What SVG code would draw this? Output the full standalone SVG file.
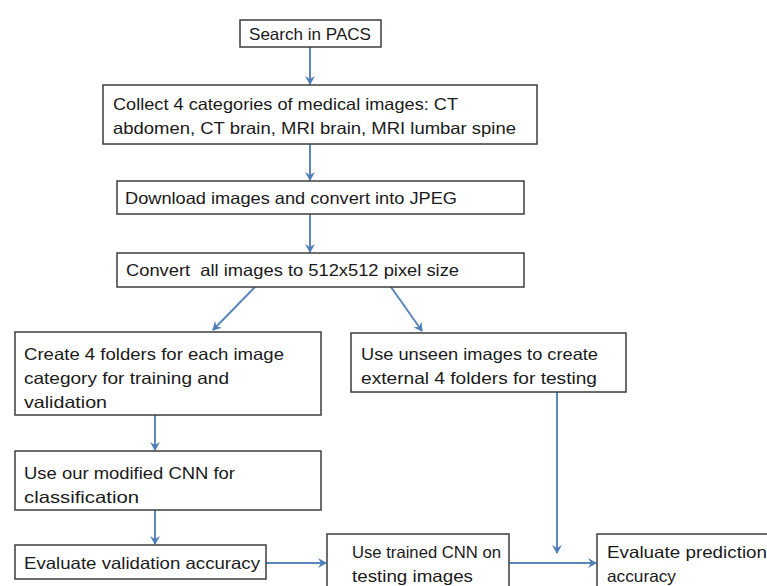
<svg xmlns="http://www.w3.org/2000/svg" width="767" height="586" viewBox="0 0 767 586">
<defs>
<marker id="ah" markerWidth="10" markerHeight="10" refX="8" refY="5" orient="auto" markerUnits="userSpaceOnUse">
<path d="M0,0 L9,5 L0,10 L3,5 Z" fill="#4F7FB8"/>
</marker>
<style>
.box{fill:#fff;stroke:#3c3c3c;stroke-width:1.5}
.t{font-family:"Liberation Sans",Arial,sans-serif;font-size:16.5px;fill:#1a1a1a}
.c{stroke:#5B87BD;stroke-width:2;fill:none;marker-end:url(#ah)}
</style>
</defs>
<rect width="767" height="586" fill="#fff"/>
<g id="connectors">
<line class="c" x1="310" y1="47" x2="310" y2="84"/>
<line class="c" x1="310" y1="144" x2="310" y2="180"/>
<line class="c" x1="310" y1="214" x2="310" y2="252"/>
<line class="c" x1="255" y1="287" x2="213" y2="330"/>
<line class="c" x1="391" y1="287" x2="422" y2="331"/>
<line class="c" x1="155" y1="415" x2="155" y2="450"/>
<line class="c" x1="155" y1="510" x2="155" y2="544"/>
<line class="c" x1="557" y1="392" x2="557" y2="553"/>
<line class="c" x1="266" y1="563" x2="326" y2="563"/>
<line class="c" x1="509" y1="563" x2="596" y2="563"/>
</g>
<g id="n1"><rect class="box" x="240" y="20" width="141" height="27"/><text class="t" x="249" y="40" textLength="122" lengthAdjust="spacingAndGlyphs">Search in PACS</text></g>
<g id="n2"><rect class="box" x="103" y="85" width="434" height="59"/><text class="t" x="113" y="110" textLength="345" lengthAdjust="spacingAndGlyphs">Collect 4 categories of medical images: CT</text><text class="t" x="113" y="134" textLength="403" lengthAdjust="spacingAndGlyphs">abdomen, CT brain, MRI brain, MRI lumbar spine</text></g>
<g id="n3"><rect class="box" x="117" y="181" width="407" height="33"/><text class="t" x="125" y="204" textLength="332" lengthAdjust="spacingAndGlyphs">Download images and convert into JPEG</text></g>
<g id="n4"><rect class="box" x="117" y="253" width="407" height="34"/><text class="t" x="126" y="276" textLength="333" lengthAdjust="spacingAndGlyphs">Convert&#160; all images to 512x512 pixel size</text></g>
<g id="n5"><rect class="box" x="15" y="332" width="306" height="83"/><text class="t" x="24" y="360" textLength="260" lengthAdjust="spacingAndGlyphs">Create 4 folders for each image</text><text class="t" x="24" y="384" textLength="205" lengthAdjust="spacingAndGlyphs">category for training and</text><text class="t" x="24" y="408" textLength="83" lengthAdjust="spacingAndGlyphs">validation</text></g>
<g id="n6"><rect class="box" x="351" y="333" width="275" height="59"/><text class="t" x="361" y="360" textLength="237" lengthAdjust="spacingAndGlyphs">Use unseen images to create</text><text class="t" x="361" y="384" textLength="236" lengthAdjust="spacingAndGlyphs">external 4 folders for testing</text></g>
<g id="n7"><rect class="box" x="15" y="451" width="306" height="59"/><text class="t" x="24" y="479" textLength="211" lengthAdjust="spacingAndGlyphs">Use our modified CNN for</text><text class="t" x="24" y="503" textLength="115" lengthAdjust="spacingAndGlyphs">classification</text></g>
<g id="n8"><rect class="box" x="15" y="545" width="251" height="34"/><text class="t" x="24" y="569" textLength="236" lengthAdjust="spacingAndGlyphs">Evaluate validation accuracy</text></g>
<g id="n9"><rect class="box" x="327" y="534" width="182" height="70"/><text class="t" x="352" y="558" textLength="149" lengthAdjust="spacingAndGlyphs">Use trained CNN on</text><text class="t" x="352" y="582" textLength="121" lengthAdjust="spacingAndGlyphs">testing images</text></g>
<g id="n10"><rect class="box" x="597" y="534" width="190" height="70"/><text class="t" x="607" y="558" textLength="160" lengthAdjust="spacingAndGlyphs">Evaluate prediction</text><text class="t" x="607" y="582" textLength="69" lengthAdjust="spacingAndGlyphs">accuracy</text></g>
</svg>
